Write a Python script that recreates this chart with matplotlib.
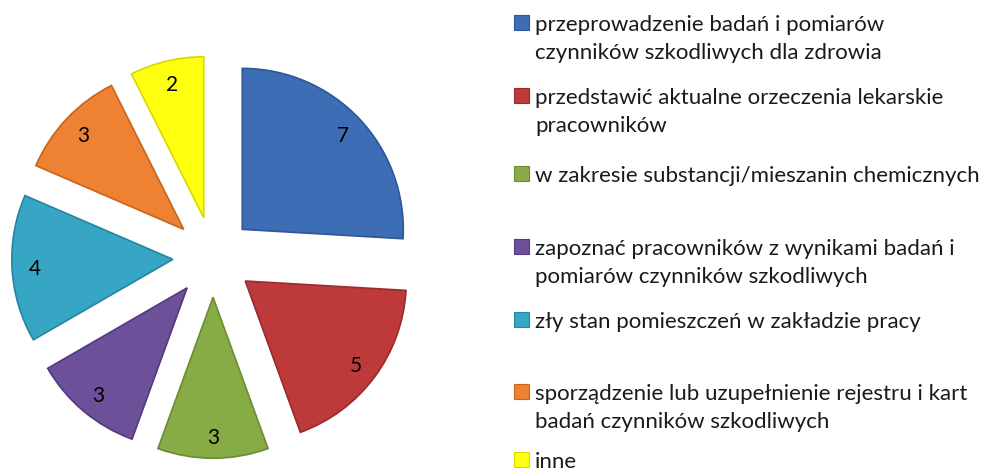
import matplotlib
matplotlib.use("Agg")
import matplotlib.pyplot as plt
from matplotlib.patches import Rectangle

# ---- data ----
categories = [
    "przeprowadzenie badań i pomiarów\nczynników szkodliwych dla zdrowia",
    "przedstawić aktualne orzeczenia lekarskie\npracowników",
    "w zakresie substancji/mieszanin chemicznych",
    "zapoznać pracowników z wynikami badań i\npomiarów czynników szkodliwych",
    "zły stan pomieszczeń w zakładzie pracy",
    "sporządzenie lub uzupełnienie rejestru i kart\nbadań czynników szkodliwych",
    "inne",
]
values = [7, 5, 3, 3, 4, 3, 2]
colors = ["#3D6DB5", "#BE3A3A", "#88AC45", "#6C519A", "#36A6C4", "#EE8232", "#FFFF10"]
edge_colors = ["#2E5796", "#9A2B2B", "#6C8C33", "#54397C", "#2585A0", "#C8641E", "#D8D800"]

W, H = 985, 471
FONT = ["Lato", "DejaVu Sans"]

fig = plt.figure(figsize=(W / 100, H / 100), dpi=100)
fig.patch.set_facecolor("white")

# pie axes spanning the whole figure, 1 data unit = R px
R = 161.0
cx, cy = 213.0, 257.0  # pie centre in px (from top-left)
ax = fig.add_axes([0, 0, 1, 1])

wedges, texts = ax.pie(
    values,
    colors=colors,
    startangle=90,
    counterclock=False,
    explode=[0.25] * len(values),
    radius=1.0,
    labels=[str(v) for v in values],
    labeldistance=0.86,
    textprops=dict(fontsize=15, color="black", family=FONT),
    wedgeprops=dict(linewidth=1.2),
)
for w, ec in zip(wedges, edge_colors):
    w.set_edgecolor(ec)
for t in texts:
    t.set_ha("center")
    t.set_va("center_baseline")

ax.set_aspect("auto")
ax.set_xlim(-cx / R, (W - cx) / R)
ax.set_ylim(-(H - cy) / R, cy / R)
ax.axis("off")

# ---- legend (manual, to match uneven vertical spacing) ----
def fx(px):
    return px / W

def fy(py):
    return 1 - py / H

square_centers = [22, 95, 173, 246, 319, 391, 459]
line_gap = 28
sq = 15
text_x = 535
legend_fs = 16
for cat, col, ec, yc in zip(categories, colors, edge_colors, square_centers):
    fig.patches.append(Rectangle((fx(514), fy(yc + sq / 2)), sq / W, sq / H,
                                 transform=fig.transFigure, facecolor=col,
                                 edgecolor=ec, linewidth=0.8))
    for i, line in enumerate(cat.split("\n")):
        fig.text(fx(text_x), fy(yc + 9 + i * line_gap), line, fontsize=legend_fs,
                 family=FONT, color="#1a1a1a", ha="left", va="baseline")

fig.savefig("out.png", dpi=100, facecolor="white")
